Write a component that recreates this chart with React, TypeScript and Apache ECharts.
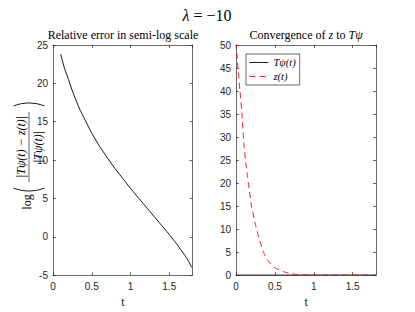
import React, { useEffect, useRef } from "react";
import * as echarts from "echarts";

// Left panel: relative error (semi-log)
const errT = [0.1, 0.125, 0.15, 0.175, 0.2, 0.25, 0.3, 0.35, 0.4, 0.45, 0.5, 0.6, 0.7, 0.8, 0.9, 1.0, 1.1, 1.2, 1.3, 1.4, 1.5, 1.6, 1.65, 1.7, 1.75, 1.79];
const errV = [23.8, 22.8, 21.9, 21.2, 20.5, 19.0, 17.7, 16.5, 15.5, 14.5, 13.5, 11.8, 10.3, 8.9, 7.6, 6.3, 5.1, 3.9, 2.7, 1.5, 0.3, -1.0, -1.7, -2.4, -3.2, -4.0];

// Right panel: convergence
const zT = [0, 0.025, 0.05, 0.075, 0.1, 0.125, 0.15, 0.2, 0.25, 0.3, 0.35, 0.4, 0.45, 0.5, 0.6, 0.7, 0.8, 0.9, 1.0, 1.2, 1.4, 1.6, 1.8];
const zV = [50.5, 45.2, 40.2, 35.4, 28.8, 24.5, 21.2, 15.0, 11.0, 7.8, 5.1, 3.4, 2.4, 1.6, 0.8, 0.32, 0.1, 0.03, 0.01, 0, 0, 0, 0];
const psiT = [0, 0.5, 1.0, 1.5, 1.8];
const psiV = [0, 0, 0, 0, 0];

const seriesNames = ["Tψ(t)", "z(t)"];
const mainTitle = "{i|λ} = −10";
const leftTitle = "Relative error in semi-log scale";
const rightTitle = "Convergence of {i|z} to {i|Tψ}";

const AX = "#262626";
const SERIF = "'Liberation Serif', 'Times New Roman', serif";
const SANS = "'Liberation Sans', Arial, sans-serif";

function xAx(gi: number, pos: "bottom" | "top", labels: boolean) {
  return {
    type: "value",
    gridIndex: gi,
    position: pos,
    min: 0,
    max: 1.8,
    interval: 0.5,
    name: labels ? "t" : "",
    nameLocation: "middle",
    nameGap: 18,
    nameTextStyle: { fontFamily: SANS, fontSize: 11, color: AX },
    axisLine: { show: true, onZero: false, lineStyle: { color: AX, width: 0.7 } },
    axisTick: { show: true, inside: true, length: 3, lineStyle: { color: AX, width: 0.7 } },
    axisLabel: { show: labels, showMaxLabel: false, margin: 6, fontFamily: SANS, fontSize: 10, color: AX },
    splitLine: { show: false },
  };
}

function yAx(gi: number, pos: "left" | "right", labels: boolean, min: number, max: number) {
  return {
    type: "value",
    gridIndex: gi,
    position: pos,
    min,
    max,
    interval: 5,
    axisLine: { show: true, onZero: false, lineStyle: { color: AX, width: 0.7 } },
    axisTick: { show: true, inside: true, length: 3, lineStyle: { color: AX, width: 0.7 } },
    axisLabel: { show: labels, margin: 5, fontFamily: SANS, fontSize: 10, color: AX },
    splitLine: { show: false },
  };
}

export default function App() {
  const ref = useRef<HTMLDivElement>(null);
  useEffect(() => {
    if (!ref.current) return;
    const chart = echarts.init(ref.current, undefined, { renderer: "svg" });
    const pair = (xs: number[], ys: number[]) => xs.map((x, i) => [x, ys[i]]);
    const fracFont = `italic 12px ${SERIF}`;
    chart.setOption({
      animation: false,
      backgroundColor: "#fff",
      grid: [
        { left: 53, top: 45, width: 139.5, height: 234.5 },
        { left: 236, top: 45, width: 140, height: 234.5 },
      ],
      xAxis: [xAx(0, "bottom", true), xAx(0, "top", false), xAx(1, "bottom", true), xAx(1, "top", false)],
      yAxis: [yAx(0, "left", true, -5, 25), yAx(0, "right", false, -5, 25), yAx(1, "left", true, 0, 50), yAx(1, "right", false, 0, 50)],
      legend: {
        orient: "vertical",
        left: 246,
        top: 54,
        itemWidth: 19,
        itemHeight: 8,
        itemGap: 3,
        padding: [3, 4, 3, 3],
        borderColor: AX,
        borderWidth: 0.7,
        backgroundColor: "#fff",
        itemStyle: { opacity: 0 },
        lineStyle: { width: 0.9 },
        textStyle: { fontFamily: SERIF, fontStyle: "italic", fontSize: 10.5, color: "#000" },
        data: seriesNames,
      },
      series: [
        {
          type: "line",
          xAxisIndex: 0,
          yAxisIndex: 0,
          data: pair(errT, errV),
          showSymbol: false,
          symbol: "none",
          lineStyle: { color: "#000", width: 0.9 },
        },
        {
          name: seriesNames[0],
          type: "line",
          xAxisIndex: 2,
          yAxisIndex: 2,
          data: pair(psiT, psiV),
          symbol: "none",
          lineStyle: { color: "#000", width: 0.9 },
          itemStyle: { color: "#000" },
        },
        {
          name: seriesNames[1],
          type: "line",
          xAxisIndex: 2,
          yAxisIndex: 2,
          data: pair(zT, zV),
          symbol: "none",
          smooth: 0.2,
          lineStyle: { color: "#ff0000", width: 0.9, type: [6, 4] },
          itemStyle: { color: "#ff0000" },
        },
      ],
      graphic: [
        {
          type: "text",
          x: 207,
          y: 15,
          style: {
            text: mainTitle,
            font: `16px ${SERIF}`,
            fill: "#000",
            align: "center",
            verticalAlign: "middle",
            rich: { i: { fontStyle: "italic", fontSize: 16, fontFamily: SERIF } },
          },
        },
        {
          type: "text",
          x: 123,
          y: 35,
          style: { text: leftTitle, font: `12px ${SERIF}`, fill: "#000", align: "center", verticalAlign: "middle" },
        },
        {
          type: "text",
          x: 306,
          y: 35,
          style: {
            text: rightTitle,
            font: `12px ${SERIF}`,
            fill: "#000",
            align: "center",
            verticalAlign: "middle",
            rich: { i: { fontStyle: "italic", fontSize: 12, fontFamily: SERIF } },
          },
        },
        {
          type: "group",
          x: 29,
          y: 147,
          rotation: Math.PI / 2,
          children: [
            { type: "text", x: 0, y: -8, style: { text: "|Tψ(t) − z(t)|", font: fracFont, fill: "#000", align: "center", verticalAlign: "middle" } },
            { type: "line", shape: { x1: -35, y1: 0, x2: 35, y2: 0 }, style: { stroke: "#000", lineWidth: 0.6 } },
            { type: "text", x: 0, y: 8.5, style: { text: "|Tψ(t)|", font: fracFont, fill: "#000", align: "center", verticalAlign: "middle" } },
            {
              type: "arc",
              shape: { cx: 0, cy: 0, r: 44, startAngle: Math.PI - 0.36, endAngle: Math.PI + 0.36 },
              style: { stroke: "#000", lineWidth: 0.9, fill: "none" },
            },
            {
              type: "arc",
              shape: { cx: 0, cy: 0, r: 44, startAngle: -0.36, endAngle: 0.36 },
              style: { stroke: "#000", lineWidth: 0.9, fill: "none" },
            },
            { type: "text", x: -55, y: -2, style: { text: "log", font: `12px ${SERIF}`, fill: "#000", align: "center", verticalAlign: "middle" } },
          ],
        },
      ],
    });
    return () => chart.dispose();
  }, []);
  return <div ref={ref} style={{ width: 415, height: 312, position: "absolute", left: 0, top: 0 }} />;
}
